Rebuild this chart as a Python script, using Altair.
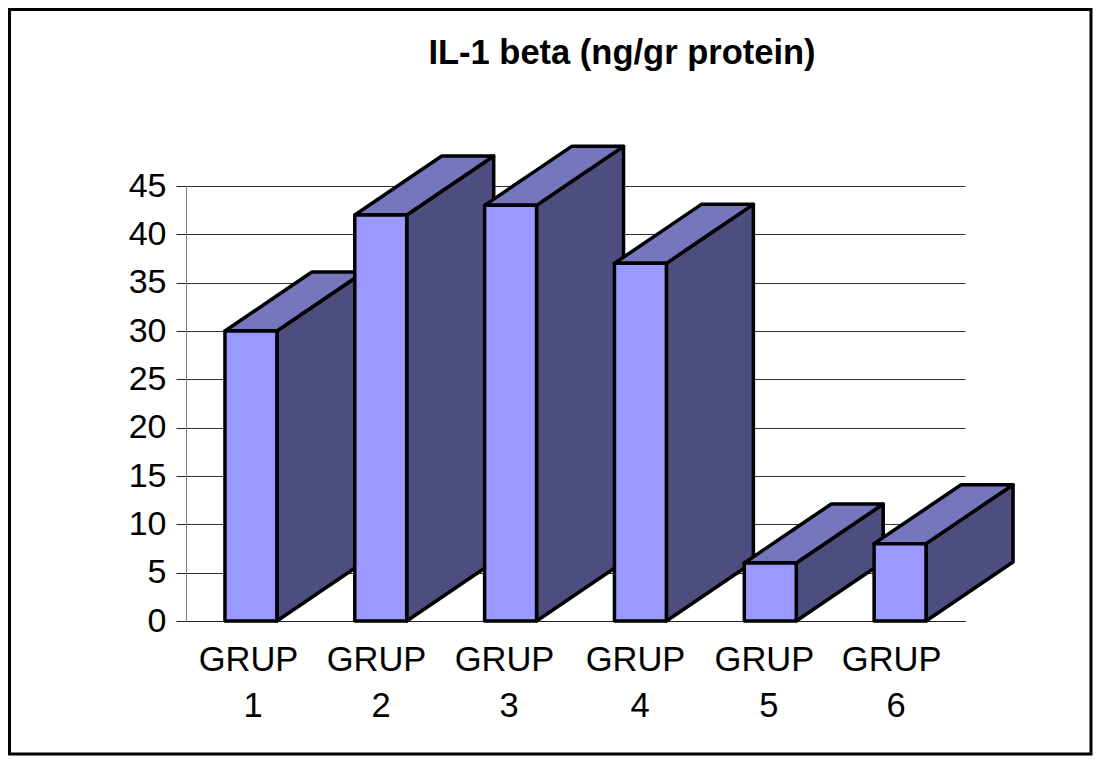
import altair as alt
import pandas as pd

groups = ["GRUP 1", "GRUP 2", "GRUP 3", "GRUP 4", "GRUP 5", "GRUP 6"]
values = [30, 42, 43, 37, 6, 8]
y_ticks = [0, 5, 10, 15, 20, 25, 30, 35, 40, 45]
chart_title = "IL-1 beta (ng/gr protein)"

FONT = "Liberation Sans"
FRONT, TOP, SIDE = "#9999FF", "#7676BF", "#4D4D80"
GAP, BAR, DX, DY = 0.3, 0.4, 0.67, 6.1

x_scale = alt.Scale(domain=[0, 6], nice=False, zero=False)
y_scale = alt.Scale(domain=[0, 45], nice=False)
X = alt.X("x:Q", scale=x_scale, title=None, axis=alt.Axis(
    values=[0, 6], labels=False, tickSize=0, grid=False,
    domainColor="#222222", domainWidth=1,
))
Y = alt.Y("y:Q", scale=y_scale, title=None, axis=alt.Axis(
    values=y_ticks, labelFont=FONT, labelFontSize=34, labelColor="black",
    labelPadding=10, tickSize=10, tickColor="#222222", tickWidth=1,
    grid=True, gridColor="#333333", gridWidth=1, gridOpacity=1,
    domainColor="#808080", domainWidth=1, labelFlush=False,
))
Y2 = alt.Y2("y2:Q")
EDGE = dict(stroke="black", strokeWidth=3.5, strokeJoin="round")

one = alt.Data(values=[{"a": 1}])
frame = alt.Chart(one).mark_rect(
    fill="transparent", stroke="black", strokeWidth=3
).encode(
    x=alt.value(-176.5), x2=alt.value(905), y=alt.value(-176.5), y2=alt.value(568)
)
heading = alt.Chart(one).mark_text(
    text=chart_title, font=FONT, fontSize=34.5, fontWeight="bold", color="black",
    align="center", baseline="alphabetic",
).encode(x=alt.value(436), y=alt.value(-122))

label_x = [0.516, 1.502, 2.488, 3.497, 4.49, 5.47]
labels = pd.DataFrame({
    "x": label_x,
    "y": [0] * 6,
    "word": [g.split()[0] for g in groups],
    "num": [g.split()[1] for g in groups],
})
word_text = alt.Chart(labels).mark_text(
    font=FONT, fontSize=34.5, color="black", align="center", baseline="alphabetic",
    dx=-4.5, dy=50,
).encode(x=X, y=Y, text="word:N")
num_text = alt.Chart(labels).mark_text(
    font=FONT, fontSize=34.5, color="black", align="center", baseline="alphabetic",
    dy=96,
).encode(x=X, y=Y, text="num:N")

layers = [frame, heading, word_text, num_text]
for i, v in enumerate(values):
    L, R = i + GAP, i + GAP + BAR
    side = pd.DataFrame({"x": [R, R + DX], "y": [0, DY], "y2": [v, v + DY]})
    rise = DY * BAR / DX
    top = pd.DataFrame({
        "x": [L, R, L + DX, R + DX],
        "y": [v, v, v + DY - rise, v + DY],
        "y2": [v, v + rise, v + DY, v + DY],
    })
    front = pd.DataFrame({"x": [L], "x2": [R], "y": [0], "y2": [v]})
    layers.append(alt.Chart(side).mark_area(fill=SIDE, **EDGE).encode(x=X, y=Y, y2=Y2))
    layers.append(alt.Chart(top).mark_area(fill=TOP, **EDGE).encode(x=X, y=Y, y2=Y2))
    layers.append(alt.Chart(front).mark_rect(fill=FRONT, **EDGE).encode(
        x=X, x2=alt.X2("x2:Q"), y=Y, y2=Y2))

chart = alt.layer(*layers).properties(
    width=779,
    height=435,
    background="white",
    autosize=alt.AutoSizeParams(type="none"),
    padding={"left": 178, "top": 178, "right": 128, "bottom": 136},
).configure_view(stroke=None)

chart.save("out.html", embed_options={"renderer": "svg", "actions": False})
